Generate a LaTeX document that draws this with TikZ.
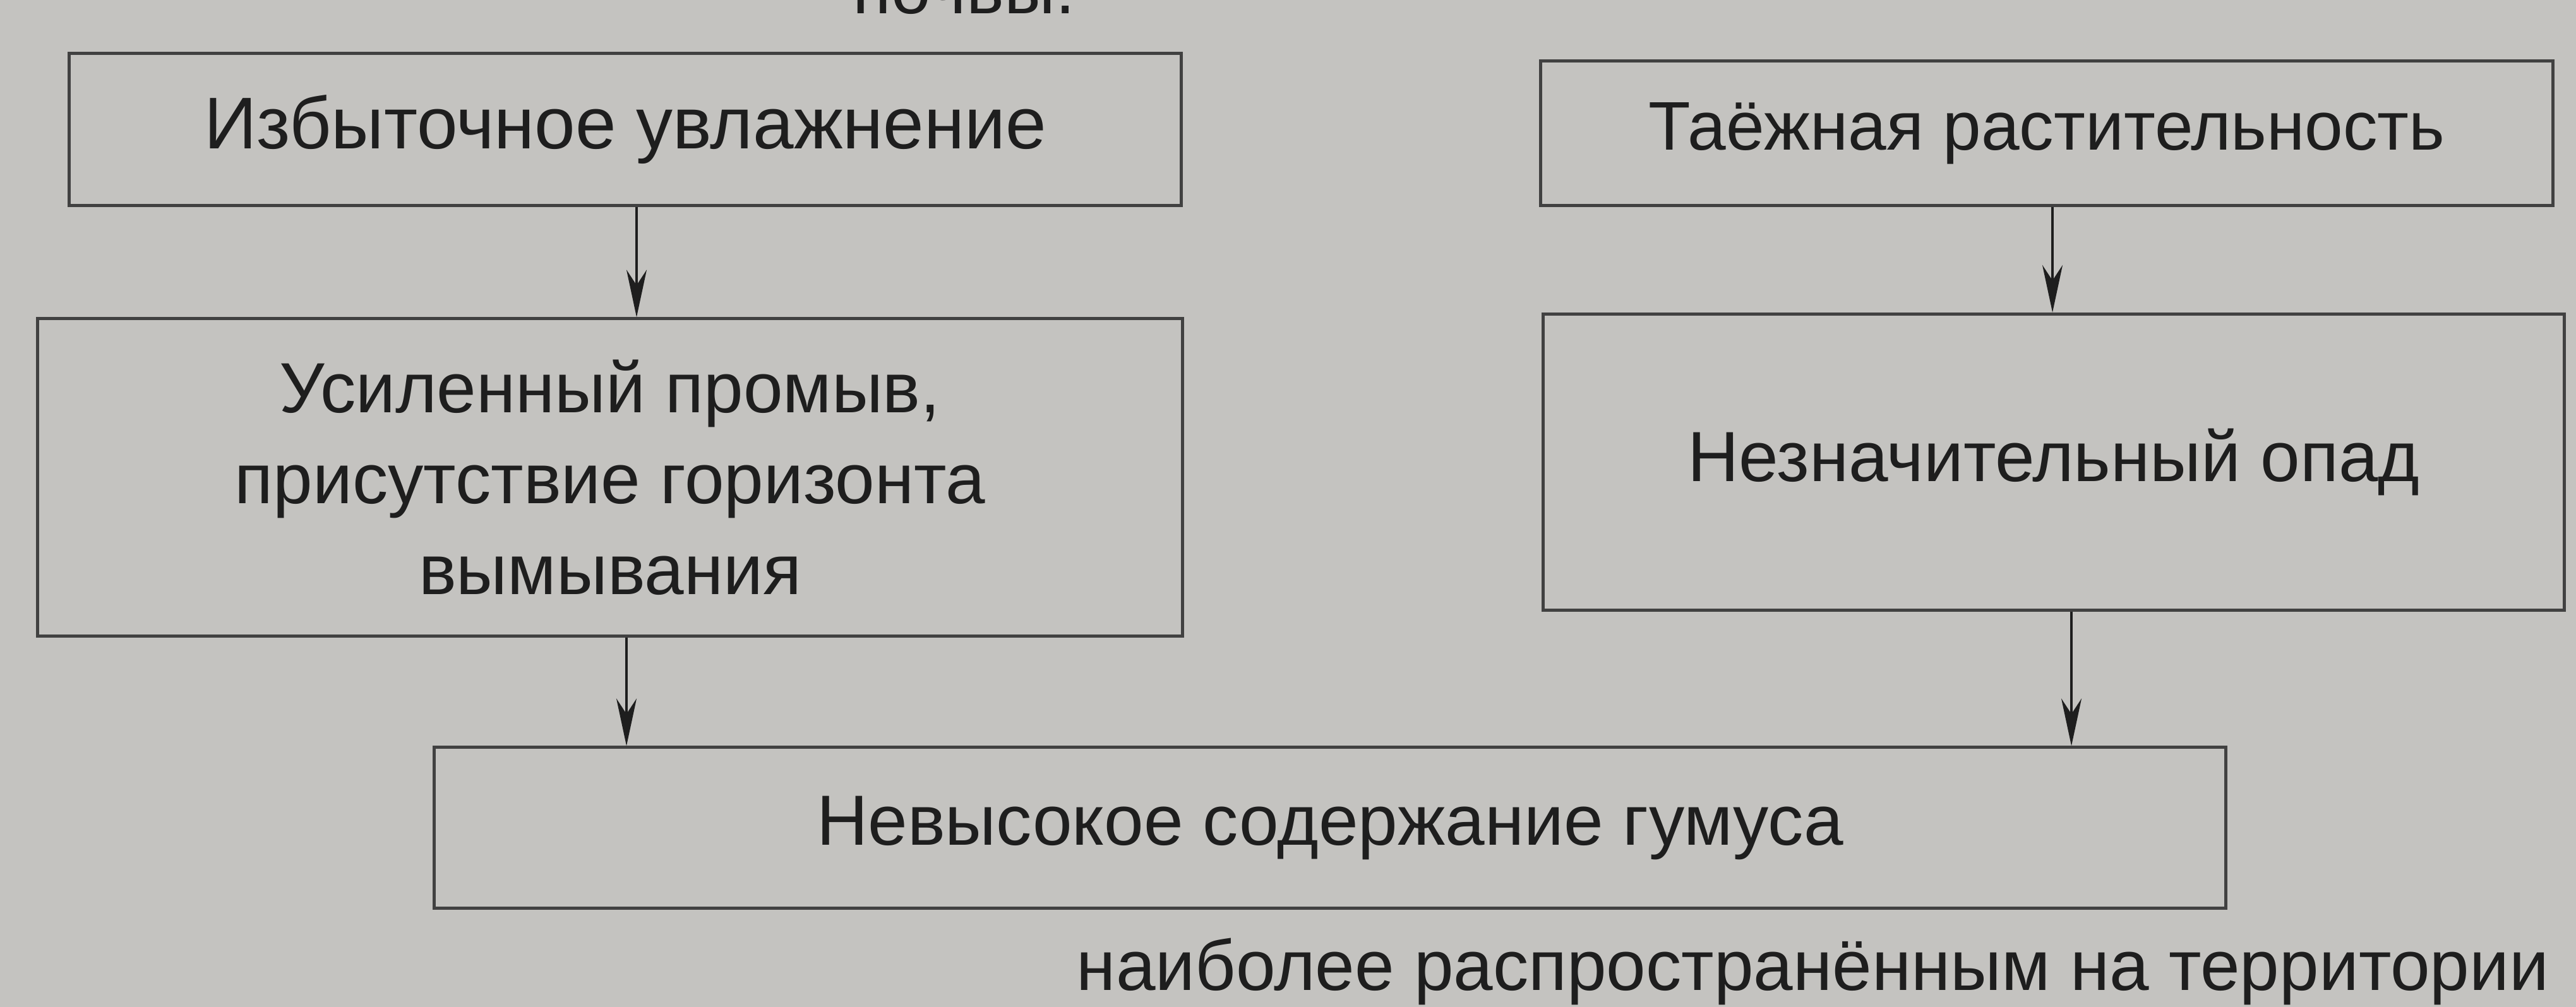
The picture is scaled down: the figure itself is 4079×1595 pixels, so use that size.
\documentclass[tikz,border=0pt]{standalone}
\usepackage{fontspec}
\setmainfont{Liberation Sans}
\usetikzlibrary{arrows.meta}
\definecolor{paper}{RGB}{196,195,192}
\definecolor{ink}{RGB}{30,30,30}
\definecolor{edge}{RGB}{65,65,65}
\tikzset{
  box/.style={draw=edge, line width=1.4pt, fill=paper, rectangle, inner sep=0pt,
    text=ink, align=center, font=\fontsize{32}{41}\selectfont},
  arr/.style={draw=ink, line width=1.0pt, -{Stealth[length=0.75cm, width=0.32cm]}},
  frag/.style={text=ink, inner sep=0pt, font=\fontsize{32}{41}\selectfont}
}
\begin{document}
\begin{tikzpicture}[x=0.01cm, y=-0.01cm]
\useasboundingbox (0,0) rectangle (4079,1595);
\fill[paper] (0,0) rectangle (4079,1595);
\begin{scope}
\clip (0,0) rectangle (4079,1595);
\node[frag, anchor=base east] (ftop) at (1703,22) {почвы.};
\end{scope}
\node[frag, anchor=base east] (fbot) at (4037,1568) {наиболее распространённым на территории};
\node[box, minimum width=17.6cm, minimum height=2.4cm, font=\fontsize{33}{41}\selectfont] (b1) at (990,205) {Избыточное увлажнение};
\node[box, minimum width=18.12cm, minimum height=5.02cm] (b2) at (966,756) {Усиленный промыв,\\присутствие горизонта\\вымывания};
\node[box, minimum width=16.02cm, minimum height=2.29cm, font=\fontsize{31}{41}\selectfont] (b3) at (3241,211) {Таёжная растительность};
\node[box, minimum width=16.16cm, minimum height=4.69cm] (b4) at (3252,732) {Незначительный опад};
\node[box, minimum width=28.35cm, minimum height=2.54cm] (b5) at (2106,1311) {Невысокое содержание гумуса};
\draw[arr] (b1.south -| 1008,0) -- (b2.north -| 1008,0);
\draw[arr] (b2.south -| 992,0) -- (b5.north -| 992,0);
\draw[arr] (b3.south -| 3250,0) -- (b4.north -| 3250,0);
\draw[arr] (b4.south -| 3280,0) -- (b5.north -| 3280,0);
\end{tikzpicture}
\end{document}
